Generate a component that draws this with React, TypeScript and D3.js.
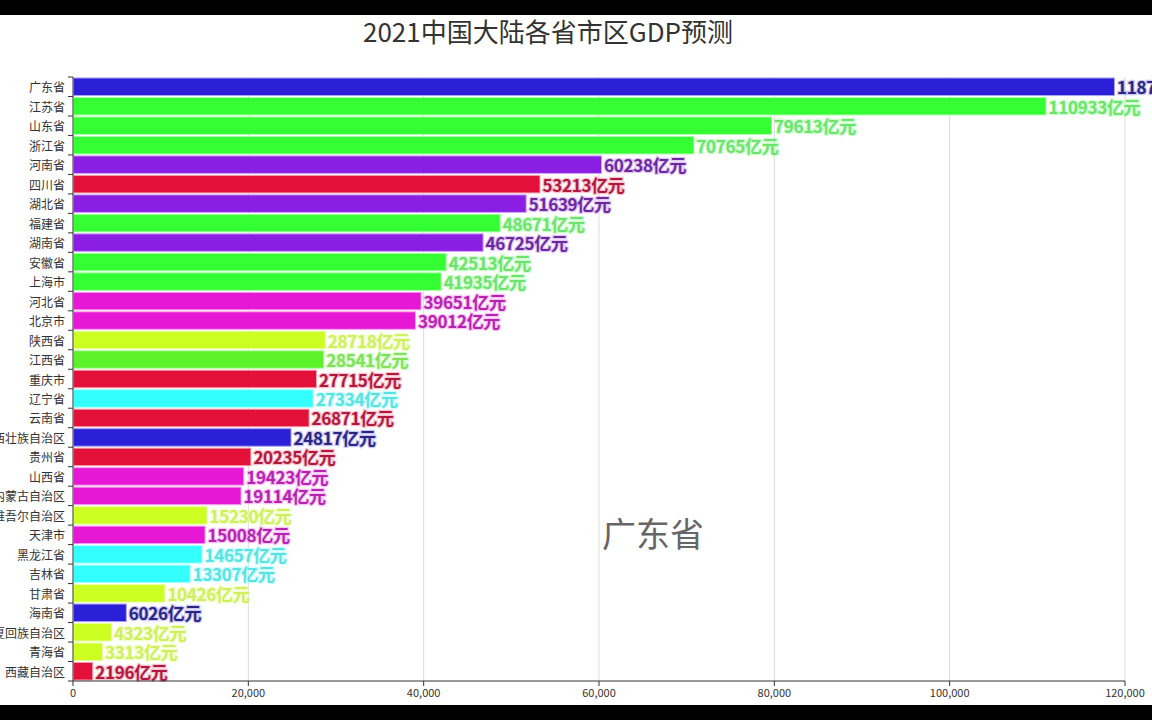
import React from "react";
import * as d3 from "d3";

const provinces = ["广东省","江苏省","山东省","浙江省","河南省","四川省","湖北省","福建省","湖南省","安徽省","上海市","河北省","北京市","陕西省","江西省","重庆市","辽宁省","云南省","广西壮族自治区","贵州省","山西省","内蒙古自治区","新疆维吾尔自治区","天津市","黑龙江省","吉林省","甘肃省","海南省","宁夏回族自治区","青海省","西藏自治区"];
const gdp = [118742,110933,79613,70765,60238,53213,51639,48671,46725,42513,41935,39651,39012,28718,28541,27715,27334,26871,24817,20235,19423,19114,15230,15008,14657,13307,10426,6026,4323,3313,2196];
const colorKeys = ["blue","green","green","green","purple","red","purple","green","purple","green","green","magenta","magenta","yellow","green2","red","cyan","red","blue","red","magenta","magenta","yellow","magenta","cyan","cyan","yellow","blue","yellow","yellow","red"];
const palette: Record<string, string> = {
  blue: "#2b1fd8",
  green: "#33ff33",
  green2: "#5cf22a",
  purple: "#8a1fe3",
  red: "#e3103a",
  magenta: "#e618d6",
  yellow: "#ccff22",
  cyan: "#33ffff",
};
const labelFill: Record<string, string> = {
  blue: "#2a2580",
  green: "#6ee26e",
  green2: "#7fe05a",
  purple: "#6a2a9c",
  red: "#b0183e",
  magenta: "#b424b0",
  yellow: "#cfee60",
  cyan: "#5ae2e2",
};
const xTicks = [0, 20000, 40000, 60000, 80000, 100000, 120000];
const title = "2021中国大陆各省市区GDP预测";
const currentLabel = "广东省";

const W = 1152, H = 720;
const left = 73, right = 1125, top = 77, bottom = 681;
const FONT = "'Noto Sans CJK SC', 'Noto Sans', sans-serif";

export default function App() {
  const x = d3.scaleLinear().domain([0, 120000]).range([left, right]);
  const y = d3.scaleBand<string>().domain(provinces).range([top, bottom]).paddingInner(0.1).paddingOuter(0.05);
  const step = (bottom - top) / provinces.length;
  const fmt = d3.format(",");
  return (
    <svg width={W} height={H} style={{ position: "absolute", left: 0, top: 0, background: "#fff" }} fontFamily={FONT}>
      <rect x={0} y={0} width={W} height={H} fill="#fff" />
      {/* grid */}
      {xTicks.slice(1).map((t) => (
        <line key={"g" + t} x1={x(t)} x2={x(t)} y1={top} y2={bottom} stroke="#dcdcdc" strokeWidth={1} />
      ))}
      {/* title */}
      <text x={548} y={42} textAnchor="middle" fontSize={26} fill="#333" fontWeight={400}>{title}</text>
      {/* bars */}
      {provinces.map((p, i) => {
        const k = colorKeys[i];
        const yy = y(p)!;
        const bw = x(gdp[i]) - x(0);
        return (
          <g key={p}>
            <rect x={x(0) + 0.5} y={yy} width={bw} height={y.bandwidth()} fill={palette[k]}
              stroke={d3.interpolateRgb(palette[k], "#ffffff")(0.6)} strokeWidth={1} />
            <text x={x(gdp[i]) + 3} y={yy + y.bandwidth() / 2} dominantBaseline="central" fontSize={17} fontWeight={600}
              fill={labelFill[k]} stroke={d3.interpolateRgb(palette[k], "#ffffff")(0.5)} strokeWidth={2.5} strokeOpacity={0.5}
              style={{ paintOrder: "stroke" }} letterSpacing={-0.3}>
              {gdp[i] + "亿元"}
            </text>
            <text x={65} y={yy + y.bandwidth() / 2} dominantBaseline="central" textAnchor="end" fontSize={12} fill="#333">{p}</text>
          </g>
        );
      })}
      {/* y axis */}
      <line x1={left} x2={left} y1={top} y2={bottom} stroke="#333" strokeWidth={1} />
      {d3.range(provinces.length + 1).map((i) => (
        <line key={"yt" + i} x1={left - 5} x2={left} y1={top + i * step} y2={top + i * step} stroke="#333" strokeWidth={1} />
      ))}
      {/* x axis */}
      <line x1={left} x2={right} y1={bottom} y2={bottom} stroke="#333" strokeWidth={1} />
      {xTicks.map((t) => (
        <g key={"xt" + t}>
          <line x1={x(t)} x2={x(t)} y1={bottom} y2={bottom + 5} stroke="#333" />
          <text x={x(t)} y={697} textAnchor="middle" fontSize={11} fill="#333">{fmt(t)}</text>
        </g>
      ))}
      {/* current label */}
      <text x={602} y={547} fontSize={34} fill="#666">{currentLabel}</text>
      {/* letterbox bands */}
      <rect x={0} y={0} width={W} height={15} fill="#000" />
      <rect x={0} y={705} width={W} height={15} fill="#000" />
    </svg>
  );
}
